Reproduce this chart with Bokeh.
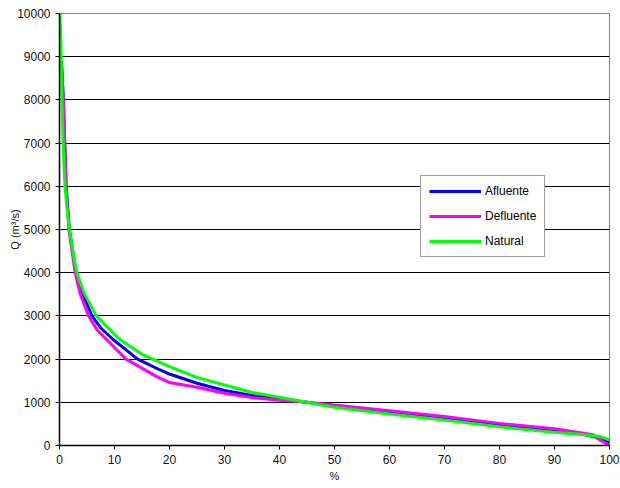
from bokeh.plotting import figure
from bokeh.models import Range1d, FixedTicker, Legend, LegendItem
from bokeh.embed import file_html
from bokeh.resources import INLINE

# Data (percent of time exceeded, discharge m³/s)
x_natural = [0.1, 0.3, 0.45, 0.65, 1.0, 1.35, 1.8, 2.7, 3.15, 4.5, 6.7, 8.0, 10.9, 15, 17, 20, 25, 30, 35, 40, 45, 50, 60, 70, 80, 90, 95, 97, 98, 99, 100]
q_natural = [10000, 9000, 8000, 7000, 6000, 5500, 5000, 4285, 4000, 3515, 3000, 2830, 2460, 2110, 2000, 1824, 1578, 1400, 1226, 1115, 1000, 883, 730, 590, 433, 307, 252, 228, 213, 173, 134]

x_afluente = [0.35, 0.7, 0.95, 1.2, 1.8, 3.0, 4.2, 5.9, 7.5, 9.7, 14.2, 18.2, 20, 25, 30, 35, 40, 45, 50, 60, 70, 80, 90, 95, 98, 99, 100]
q_afluente = [8900, 8000, 7000, 6000, 5000, 4000, 3515, 3000, 2720, 2460, 2000, 1754, 1655, 1440, 1272, 1157, 1075, 1000, 906, 768, 630, 472, 354, 268, 181, 118, 55]

x_defluente = [0.4, 0.7, 0.95, 1.2, 1.7, 2.85, 3.75, 5.3, 6.8, 8.5, 12.1, 17.6, 20, 25, 30, 35, 40, 45, 50, 60, 70, 80, 90, 95, 97, 98, 99, 100]
q_defluente = [8800, 8000, 7000, 6000, 5000, 4000, 3515, 3000, 2680, 2460, 2000, 1600, 1456, 1348, 1210, 1111, 1050, 1000, 937, 805, 669, 512, 386, 291, 250, 150, 71, 0]

x_ticks = [0, 10, 20, 30, 40, 50, 60, 70, 80, 90, 100]
y_ticks = [0, 1000, 2000, 3000, 4000, 5000, 6000, 7000, 8000, 9000, 10000]

FONT = "Liberation Sans"

p = figure(width=620, height=488, output_backend="svg", toolbar_location=None,
           x_range=Range1d(0, 100), y_range=Range1d(0, 10000),
           min_border_left=59, min_border_right=11, min_border_top=13, min_border_bottom=43)
p.background_fill_color = "white"
p.border_fill_color = "white"
p.outline_line_color = "#808080"
p.outline_line_width = 1

p.xaxis.ticker = FixedTicker(ticks=x_ticks)
p.yaxis.ticker = FixedTicker(ticks=y_ticks)
p.xaxis.axis_label = "%"
p.yaxis.axis_label = "Q (m³/s)"
for ax in (p.xaxis[0], p.yaxis[0]):
    ax.axis_line_color = "black"
    ax.axis_line_width = 1.5
    ax.major_tick_line_color = "black"
    ax.major_tick_out = 4
    ax.major_tick_in = 0
    ax.minor_tick_line_color = None
    ax.major_label_text_font = FONT
    ax.major_label_text_font_size = "12px"
    ax.major_label_text_color = "#111111"
    ax.axis_label_text_font = FONT
    ax.axis_label_text_font_size = "11px"
    ax.axis_label_text_font_style = "normal"
    ax.axis_label_text_color = "#111111"
p.xaxis.major_label_standoff = 5
p.xaxis.axis_label_standoff = 3
p.yaxis.major_label_standoff = 5
p.yaxis.axis_label_standoff = -7

p.xgrid.grid_line_color = None
p.ygrid.grid_line_color = "black"
p.ygrid.grid_line_width = 1

r1 = p.line(x_afluente, q_afluente, line_color="#0000FF", line_width=3)
r2 = p.line(x_defluente, q_defluente, line_color="#FF00FF", line_width=3)
r3 = p.line(x_natural, q_natural, line_color="#00FF00", line_width=3)

legend = Legend(items=[LegendItem(label="Afluente", renderers=[r1]),
                       LegendItem(label="Defluente", renderers=[r2]),
                       LegendItem(label="Natural", renderers=[r3])],
                location=(361, 188))
legend.glyph_width = 52
legend.glyph_height = 14
legend.label_height = 14
legend.label_standoff = 4
legend.spacing = 11
legend.padding = 8
legend.margin = 0
legend.label_text_font = FONT
legend.label_text_font_size = "12px"
legend.label_text_color = "black"
legend.border_line_color = "#404040"
legend.border_line_width = 1
legend.background_fill_color = "white"
legend.background_fill_alpha = 1
p.add_layout(legend, "center")

open("out.html", "w").write(file_html(p, INLINE))
